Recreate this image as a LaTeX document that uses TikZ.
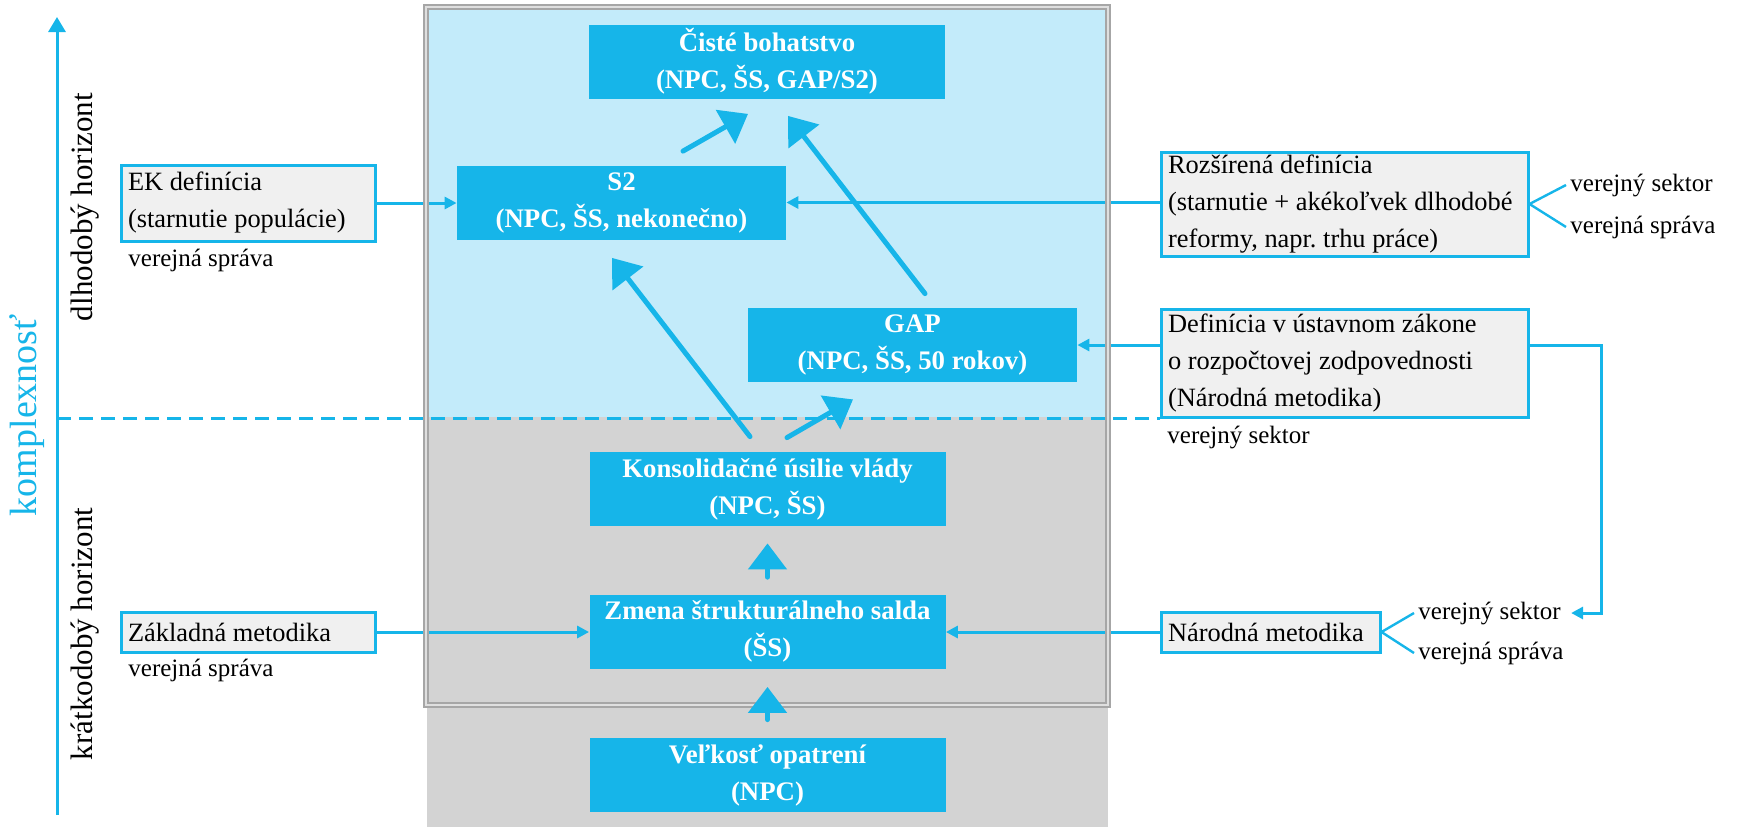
\documentclass[tikz,border=0pt]{standalone}
\usepackage{fontspec}
\setmainfont{Liberation Serif}
\usetikzlibrary{arrows.meta,backgrounds}

\definecolor{boxblue}{HTML}{16B5E9}
\definecolor{lightsky}{HTML}{C3EBFA}
\definecolor{areagray}{HTML}{D3D3D3}
\definecolor{notegray}{HTML}{F0F0F0}
\definecolor{framegray}{HTML}{A6A6A6}

\begin{document}
\begin{tikzpicture}[
	x=0.5pt, y=-0.5pt,
	bluebox/.style={
	  rectangle,
	  fill=boxblue,
	  text=white,
	  align=center,
	  inner sep=0pt,
	  minimum height=37pt,
	  font=\bfseries\fontsize{13.4}{18.5}\selectfont
	},
	wide/.style={bluebox, minimum width=178pt},
	narrow/.style={bluebox, minimum width=164.5pt},
	defbox/.style={
	  rectangle,
	  draw=boxblue,
	  line width=1.5pt,
	  fill=notegray,
	  align=flush left,
	  inner xsep=3.5pt,
	  inner ysep=0pt,
	  font=\frenchspacing\fontsize{13.2}{18.5}\selectfont
	},
	note/.style={inner sep=2pt, anchor=west, font=\fontsize{12.5}{15}\selectfont},
	line/.style={draw, boxblue, line width=1.5pt, -{Triangle[length=6pt,width=6pt]}},
	branch/.style={draw, boxblue, line width=1.2pt},
	bigarrow/.style={draw, boxblue, line width=2.5pt, line cap=round, -{Triangle[length=13pt,width=19pt]}}
	]
	\useasboundingbox (0, 0) rectangle (1737, 827);

	\node at (767, 61.5) [wide] (cb) {Čisté bohatstvo\\(NPC, ŠS, GAP/S2)};
	\node at (621.5, 202.5) [narrow] (s2) {S2\\(NPC, ŠS, nekonečno)};
	\node at (912.5, 345) [narrow] (gap) {GAP\\(NPC, ŠS, 50 rokov)};
	\node at (767.5, 489) [wide] (kons) {Konsolidačné úsilie vlády\\(NPC, ŠS)};
	\node at (767.5, 631.5) [wide] (zmena) {Zmena štrukturálneho salda\\(ŠS)};
	\node at (767.5, 775) [wide] (velk) {Veľkosť opatrení\\(NPC)};

	\node at (248, 203) [defbox, text width=120pt, minimum height=38pt] (ek) {EK definícia\\(starnutie populácie)};
	\node at (248, 632) [defbox, text width=120pt, minimum height=20pt] (zakl) {Základná metodika};
	\node at (1344.5, 204) [defbox, text width=176.5pt, minimum height=52pt] (rozs) {Rozšírená definícia\\(starnutie + akékoľvek dlhodobé\\reformy, napr. trhu práce)};
	\node at (1344.5, 363) [defbox, text width=176.5pt, minimum height=54pt] (ustav) {Definícia v ústavnom zákone\\o rozpočtovej zodpovednosti\\(Národná metodika)};
	\node at (1270.5, 632) [defbox, text width=102.5pt, minimum height=20pt] (narod) {Národná metodika};

	\node at (124, 260) [note] (eksprava) {verejná správa};
	\node at (124, 670) [note] (zaklsprava) {verejná správa};
	\node at (1163, 437) [note] (ustavsektor) {verejný sektor};
	\node at (1566, 185) [note] (rozssektor) {verejný sektor};
	\node at (1566, 227) [note] (rozssprava) {verejná správa};
	\node at (1414, 613) [note] (narodsektor) {verejný sektor};
	\node at (1414, 653) [note] (narodsprava) {verejná správa};

	\node at (27, 415) [rotate=90, text=boxblue, font=\fontsize{19}{22}\selectfont] (kompl) {komplexnosť};
	\node at (85, 207) [rotate=90, font=\fontsize{15.5}{18}\selectfont] (dlho) {dlhodobý horizont};
	\node at (85, 634) [rotate=90, font=\fontsize{15.5}{18}\selectfont] (kratko) {krátkodobý horizont};

	\coordinate (axbot) at (57, 815);
	\coordinate (axtop) at (57, 17);

	\begin{scope}[on background layer]
	\fill [lightsky] (427, 7) rectangle (1108, 417);
	\fill [areagray] (427, 417) rectangle (1108, 827);
	\path [draw, boxblue, line width=1.5pt, dash pattern=on 7pt off 4pt] (axbot |- ustav.south) -- (ustav.south west);
	\end{scope}

	\path [draw, boxblue, line width=1.5pt, -{Triangle[length=7.5pt,width=8.5pt]}] (axbot) -- (axtop);

	\path [line] (ek.east) -- (ek.east -| s2.west);
	\path [line] (rozs.west |- s2.east) -- (s2.east);
	\path [line] (ustav.west |- gap.east) -- (gap.east);
	\path [line] (zakl.east) -- (zakl.east -| zmena.west);
	\path [line] (narod.west) -- (narod.west -| zmena.east);
	\path [line, shorten >=3pt] (ustav.east |- gap.east) -- ++(72, 0) |- (narodsektor.east);

	\path [branch] (rozs.east) -- (rozssektor.west);
	\path [branch] (rozs.east) -- (rozssprava.west);
	\path [branch] (narod.east) -- (narodsektor.west);
	\path [branch] (narod.east) -- (narodsprava.west);

	\draw [framegray, line width=0.8pt, double=gray!25, double distance=1pt] (426, 7) rectangle (1108, 705);

	\path [bigarrow] ([xshift=30.75pt, yshift=7pt]s2.north) -- ([xshift=-9.5pt, yshift=-7.5pt]cb.south);
	\path [bigarrow] ([xshift=6.25pt, yshift=7pt]gap.north) -- ([xshift=10.5pt, yshift=-8.5pt]cb.south);
	\path [bigarrow] ([xshift=-8.75pt, yshift=7.5pt]kons.north) -- ([xshift=-4.75pt, yshift=-9pt]s2.south);
	\path [bigarrow] ([xshift=9.75pt, yshift=7pt]kons.north) -- ([xshift=-29.75pt, yshift=-8.5pt]gap.south);
	\path [bigarrow, shorten <=8.5pt, shorten >=8.5pt] (zmena.north) -- (kons.south);
	\path [bigarrow, shorten <=9pt, shorten >=9pt] (velk.north) -- (zmena.south);
  \end{tikzpicture}
\end{document}
